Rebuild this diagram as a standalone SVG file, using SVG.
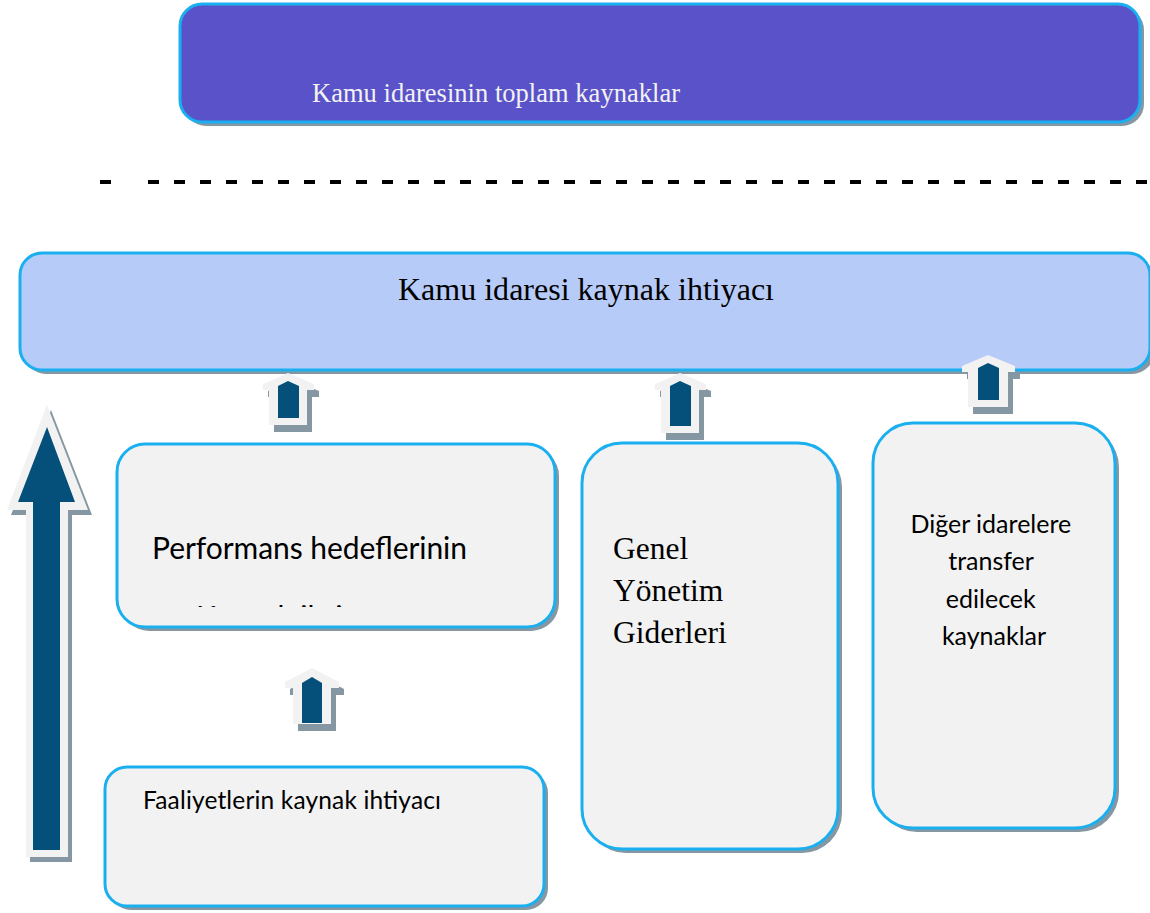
<svg xmlns="http://www.w3.org/2000/svg" width="1150" height="913" viewBox="0 0 1150 913">
<defs>
<style>
.box{stroke:#1ab0f0;stroke-width:3}
.shadow{fill:#8597a2}
.light{fill:#f2f2f2}
.grey{fill:#f2f2f2}
.dark{fill:#04507a}
.serif{font-family:"Liberation Serif","Times New Roman",serif}
.sans{font-family:Lato,"Noto Sans","DejaVu Sans",sans-serif}
</style>
<clipPath id="perfClip"><rect x="117" y="444" width="438" height="163"/></clipPath>
</defs>
<rect width="1150" height="913" fill="#ffffff"/>

<g id="toplam-kaynaklar">
<rect x="184" y="8" width="960" height="118" rx="22" class="shadow"/>
<rect x="180" y="4" width="960" height="118" rx="22" fill="#5a52c8" class="box"/>
<text x="312" y="102" class="serif" font-size="26.5" fill="#f2f2f2" textLength="368">Kamu idaresinin toplam kaynaklar</text>
</g>

<g id="separator">
<line x1="100" y1="182" x2="111" y2="182" stroke="#000" stroke-width="4"/>
<line x1="148" y1="182" x2="1150" y2="182" stroke="#000" stroke-width="4" stroke-dasharray="11 15"/>
</g>

<g id="kaynak-ihtiyaci">
<rect x="24" y="257" width="1130" height="117" rx="22" class="shadow"/>
<rect x="20" y="253" width="1130" height="117" rx="22" fill="#b7cbf8" class="box"/>
<text x="398" y="300" class="serif" font-size="32" fill="#000" textLength="376">Kamu idaresi kaynak ihtiyacı</text>
</g>

<g id="performans">
<rect x="121" y="448" width="438" height="183" rx="28" class="shadow"/>
<rect x="117" y="444" width="438" height="183" rx="28" class="box grey"/>
<text x="152" y="559" class="sans" font-size="30" fill="#000" textLength="315">Performans hedeflerinin</text>
<text x="196" y="628" class="sans" font-size="30" fill="#000" clip-path="url(#perfClip)">Kaynak ihtiyacı</text>
</g>

<g id="genel-yonetim">
<rect x="586" y="447" width="256" height="406" rx="40" class="shadow"/>
<rect x="582" y="443" width="256" height="406" rx="40" class="box grey"/>
<text class="serif" font-size="31.5" fill="#000">
<tspan x="613" y="559">Genel</tspan>
<tspan x="613" y="601">Yönetim</tspan>
<tspan x="613" y="643">Giderleri</tspan>
</text>
</g>

<g id="diger-idareler">
<rect x="877" y="427" width="242" height="405" rx="40" class="shadow"/>
<rect x="873" y="423" width="242" height="405" rx="40" class="box grey"/>
<text class="sans" font-size="25" fill="#000" text-anchor="middle">
<tspan x="994" y="533">Diğer idarelere</tspan>
<tspan x="994" y="570">transfer</tspan>
<tspan x="994" y="608">edilecek</tspan>
<tspan x="994" y="645">kaynaklar</tspan>
</text>
</g>

<g id="faaliyetler">
<rect x="109" y="771" width="439" height="139" rx="22" class="shadow"/>
<rect x="105" y="767" width="439" height="139" rx="22" class="box grey"/>
<text x="143" y="809" class="sans" font-size="24.5" fill="#000" textLength="298">Faaliyetlerin kaynak ihtiyacı</text>
</g>

<g id="connectors">
<g id="big-arrow">
<path d="M51,410 L92,515 L72,515 L72,862 L30,862 L30,515 L11,515 Z" class="shadow"/>
<path d="M47,405 L88,510 L68,510 L68,857 L26,857 L26,510 L7,510 Z" class="light"/>
<path d="M47,427 L75,502 L60,502 L60,850 L33,850 L33,502 L18,502 Z" class="dark"/>
</g>
<g id="arrow-perf" transform="translate(288,373)">
<path d="M0,0 L26,11 L26,17 L19,17 L19,52 L-19,52 L-19,17 L-25,17 L-25,11 Z" class="shadow" transform="translate(5,7)"/>
<path d="M0,0 L26,11 L26,17 L19,17 L19,52 L-19,52 L-19,17 L-25,17 L-25,11 Z" class="light"/>
<path d="M0,8 L11,13 L11,45 L-10,45 L-10,13 Z" class="dark"/>
</g>
<g id="arrow-genel" transform="translate(680,373)">
<path d="M0,0 L26,11 L26,17 L19,17 L19,60 L-19,60 L-19,17 L-25,17 L-25,11 Z" class="shadow" transform="translate(5,7)"/>
<path d="M0,0 L26,11 L26,17 L19,17 L19,60 L-19,60 L-19,17 L-25,17 L-25,11 Z" class="light"/>
<path d="M0,8 L11,13 L11,53 L-10,53 L-10,13 Z" class="dark"/>
</g>
<g id="arrow-diger" transform="translate(988,355)">
<path d="M0,0 L27,11 L27,17 L20,17 L20,52 L-20,52 L-20,17 L-26,17 L-26,11 Z" class="shadow" transform="translate(5,7)"/>
<path d="M0,0 L27,11 L27,17 L20,17 L20,52 L-20,52 L-20,17 L-26,17 L-26,11 Z" class="light"/>
<path d="M0,8 L11,13 L11,45 L-10,45 L-10,13 Z" class="dark"/>
</g>
<g id="arrow-faaliyet" transform="translate(312,668)">
<path d="M0,0 L27,14 L27,20 L19,20 L19,56 L-19,56 L-19,20 L-27,20 L-27,14 Z" class="shadow" transform="translate(5,7)"/>
<path d="M0,0 L27,14 L27,20 L19,20 L19,56 L-19,56 L-19,20 L-27,20 L-27,14 Z" class="light"/>
<path d="M0,9 L10,15 L10,55 L-10,55 L-10,15 Z" class="dark"/>
</g>
</g>
</svg>
